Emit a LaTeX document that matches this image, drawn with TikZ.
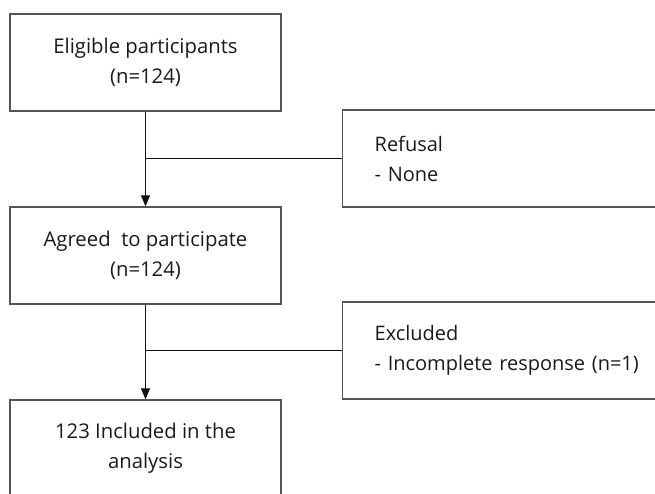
\documentclass[tikz,border=0pt]{standalone}
\usepackage{fontspec}
\setmainfont{Open Sans}
\usetikzlibrary{arrows.meta}
\definecolor{boxline}{HTML}{555555}
\definecolor{link}{HTML}{111111}
\definecolor{ink}{HTML}{1A1A1A}
\tikzset{
  stagebox/.style={draw=boxline, line width=1.3pt, minimum width=271pt, minimum height=97pt,
    inner sep=0pt, align=center, text=ink, font=\fontsize{20.3}{30}\selectfont},
  sidebox/.style={draw=boxline, line width=1.3pt, minimum width=400pt, minimum height=97pt,
    text width=336pt, inner xsep=32pt, inner ysep=0pt, align=left, anchor=west,
    text=ink, font=\fontsize{20}{30}\selectfont},
  flow/.style={draw=link, line width=1pt, -{Triangle[length=11pt,width=9pt]}},
  branch/.style={draw=link, line width=1pt}
}
\begin{document}
\begin{tikzpicture}[x=1pt,y=-1pt]
  \useasboundingbox (0,0) rectangle (655,493);
  \clip (0,0) rectangle (655,493);

  % main column
  \node[stagebox] (elig) at (145.5,62.5) {Eligible participants\\(n=124)};
  \node[stagebox] (agree) at (145.5,255.5) {Agreed\ \ to participate\\(n=124)};
  \node[stagebox] (incl) at (145.5,448.5) {123 Included in the\\analysis};

  % side boxes
  \node[sidebox] (refuse) at (342,158.5) {Refusal\\- None};
  \node[sidebox] (excl) at (342,350.5) {Excluded\\- Incomplete response (n=1)};

  \draw[flow] (elig.south) -- (agree.north);
  \draw[flow] (agree.south) -- (incl.north);
  \draw[branch] (elig.south |- refuse.west) -- (refuse.west);
  \draw[branch] (agree.south |- excl.west) -- (excl.west);
\end{tikzpicture}
\end{document}
